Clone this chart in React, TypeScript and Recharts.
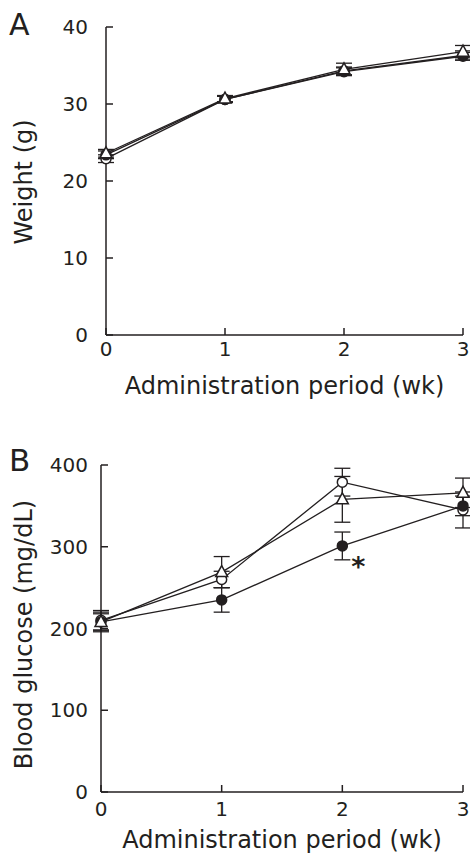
import React from "react";
import {
  LineChart,
  Line,
  XAxis,
  YAxis,
  ErrorBar,
  Label,
  LabelList,
} from "recharts";

const weeks = [0, 1, 2, 3];

// Panel A: body weight (g)
const weightOpen = [22.9, 30.6, 34.3, 36.3];
const weightOpenErr = [0.5, 0.4, 0.5, 0.6];
const weightFilled = [23.4, 30.6, 34.2, 36.2];
const weightFilledErr = [0.5, 0.4, 0.5, 0.5];
const weightTri = [23.6, 30.7, 34.5, 36.8];
const weightTriErr = [0.5, 0.4, 0.8, 0.8];
const weightTicks = [0, 10, 20, 30, 40];

// Panel B: blood glucose (mg/dL)
const glucoseOpen = [210, 260, 379, 345];
const glucoseOpenErr = [12, 10, 17, 22];
const glucoseFilled = [208, 235, 301, 350];
const glucoseFilledErr = [10, 15, 17, 12];
const glucoseTri = [208, 269, 358, 366];
const glucoseTriErr = [12, 19, 28, 18];
const glucoseSig = ["", "", "*", ""];
const glucoseTicks = [0, 100, 200, 300, 400];

const FONT = "'DejaVu Sans', Verdana, sans-serif";
const INK = "#231f20";

const weightData = weeks.map((w, i) => ({
  week: w,
  open: weightOpen[i],
  openErr: weightOpenErr[i],
  filled: weightFilled[i],
  filledErr: weightFilledErr[i],
  tri: weightTri[i],
  triErr: weightTriErr[i],
}));

const glucoseData = weeks.map((w, i) => ({
  week: w,
  open: glucoseOpen[i],
  openErr: glucoseOpenErr[i],
  filled: glucoseFilled[i],
  filledErr: glucoseFilledErr[i],
  tri: glucoseTri[i],
  triErr: glucoseTriErr[i],
  sig: glucoseSig[i],
}));

const Marker = ({ cx, cy, kind }: { cx?: number; cy?: number; kind: string }) => {
  if (cx == null || cy == null) return null;
  if (kind === "tri") {
    return (
      <path
        d={`M${cx},${cy - 6.5} L${cx + 6},${cy + 4.5} L${cx - 6},${cy + 4.5} Z`}
        fill="#fff"
        stroke={INK}
        strokeWidth={1.5}
      />
    );
  }
  return (
    <circle
      cx={cx}
      cy={cy}
      r={5}
      fill={kind === "filled" ? INK : "#fff"}
      stroke={INK}
      strokeWidth={1.5}
    />
  );
};

const dotFor = (kind: string) => (p: any) => (
  <Marker key={`${kind}-${p.index}`} cx={p.cx} cy={p.cy} kind={kind} />
);

// rotated y-axis title, centred on the plot height
const yTitle = (text: string, shift: number) => (props: any) => {
  const vb = props.viewBox || {};
  const cy = vb.y + vb.height / 2 + shift;
  return (
    <text
      x={24}
      y={cy}
      transform={`rotate(-90, 24, ${cy})`}
      textAnchor="middle"
      dominantBaseline="central"
      fontSize={24}
      fontFamily={FONT}
      fill={INK}
    >
      {text}
    </text>
  );
};

const Star = (props: any) => {
  const { x, y, value } = props;
  if (!value) return null;
  return (
    <text
      x={x + 16}
      y={y + 30}
      textAnchor="middle"
      fontSize={27}
      fontWeight="bold"
      fontFamily={FONT}
      fill={INK}
    >
      {value}
    </text>
  );
};

const tickStyle = { fill: INK, fontSize: 20, fontFamily: FONT };
const axisStroke = { stroke: INK, strokeWidth: 1.5 };
const titleStyle = { fontSize: 24, fontFamily: FONT, fill: INK };

export default function App() {
  const lines = (withStar: boolean) => [
    <Line
      key="open"
      dataKey="open"
      stroke={INK}
      strokeWidth={1.3}
      dot={dotFor("open")}
      isAnimationActive={false}
    >
      <ErrorBar dataKey="openErr" direction="y" width={8} stroke={INK} strokeWidth={1.3} />
    </Line>,
    <Line
      key="filled"
      dataKey="filled"
      stroke={INK}
      strokeWidth={1.3}
      dot={dotFor("filled")}
      isAnimationActive={false}
    >
      <ErrorBar dataKey="filledErr" direction="y" width={8} stroke={INK} strokeWidth={1.3} />
      {withStar && <LabelList dataKey="sig" content={<Star />} />}
    </Line>,
    <Line
      key="tri"
      dataKey="tri"
      stroke={INK}
      strokeWidth={1.3}
      dot={dotFor("tri")}
      isAnimationActive={false}
    >
      <ErrorBar dataKey="triErr" direction="y" width={8} stroke={INK} strokeWidth={1.3} />
    </Line>,
  ];

  return (
    <div
      style={{
        position: "absolute",
        left: 0,
        top: 0,
        width: 470,
        height: 854,
        background: "#fff",
        fontFamily: FONT,
        color: INK,
      }}
    >
      <div style={{ position: "absolute", left: 9, top: 7, fontSize: 30, lineHeight: "36px" }}>A</div>
      <div style={{ position: "absolute", left: 9, top: 442, fontSize: 31, lineHeight: "36px" }}>B</div>

      <div style={{ position: "absolute", left: 0, top: 0 }}>
        <LineChart
          width={470}
          height={400}
          data={weightData}
          margin={{ top: 27, right: 7, left: 46, bottom: 35 }}
        >
          <XAxis
            type="number"
            dataKey="week"
            domain={[0, 3]}
            ticks={weeks}
            height={30}
            tickSize={-7}
            tickMargin={14}
            tick={tickStyle}
            axisLine={axisStroke}
            tickLine={axisStroke}
          >
            <Label
              value="Administration period (wk)"
              position="bottom"
              offset={12}
              style={titleStyle}
            />
          </XAxis>
          <YAxis
            type="number"
            domain={[0, 40]}
            ticks={weightTicks}
            width={60}
            tickSize={-7}
            tickMargin={25}
            tick={tickStyle}
            axisLine={axisStroke}
            tickLine={axisStroke}
          >
            <Label content={yTitle("Weight (g)", 1)} />
          </YAxis>
          {lines(false)}
        </LineChart>
      </div>

      <div style={{ position: "absolute", left: 0, top: 420 }}>
        <LineChart
          width={470}
          height={434}
          data={glucoseData}
          margin={{ top: 45, right: 7, left: 41, bottom: 32 }}
        >
          <XAxis
            type="number"
            dataKey="week"
            domain={[0, 3]}
            ticks={weeks}
            height={30}
            tickSize={-7}
            tickMargin={17}
            tick={tickStyle}
            axisLine={axisStroke}
            tickLine={axisStroke}
          >
            <Label
              value="Administration period (wk)"
              position="bottom"
              offset={9}
              style={titleStyle}
            />
          </XAxis>
          <YAxis
            type="number"
            domain={[0, 400]}
            ticks={glucoseTicks}
            width={60}
            tickSize={-7}
            tickMargin={20}
            tick={tickStyle}
            axisLine={axisStroke}
            tickLine={axisStroke}
          >
            <Label content={yTitle("Blood glucose (mg/dL)", 6)} />
          </YAxis>
          {lines(true)}
        </LineChart>
      </div>
    </div>
  );
}
